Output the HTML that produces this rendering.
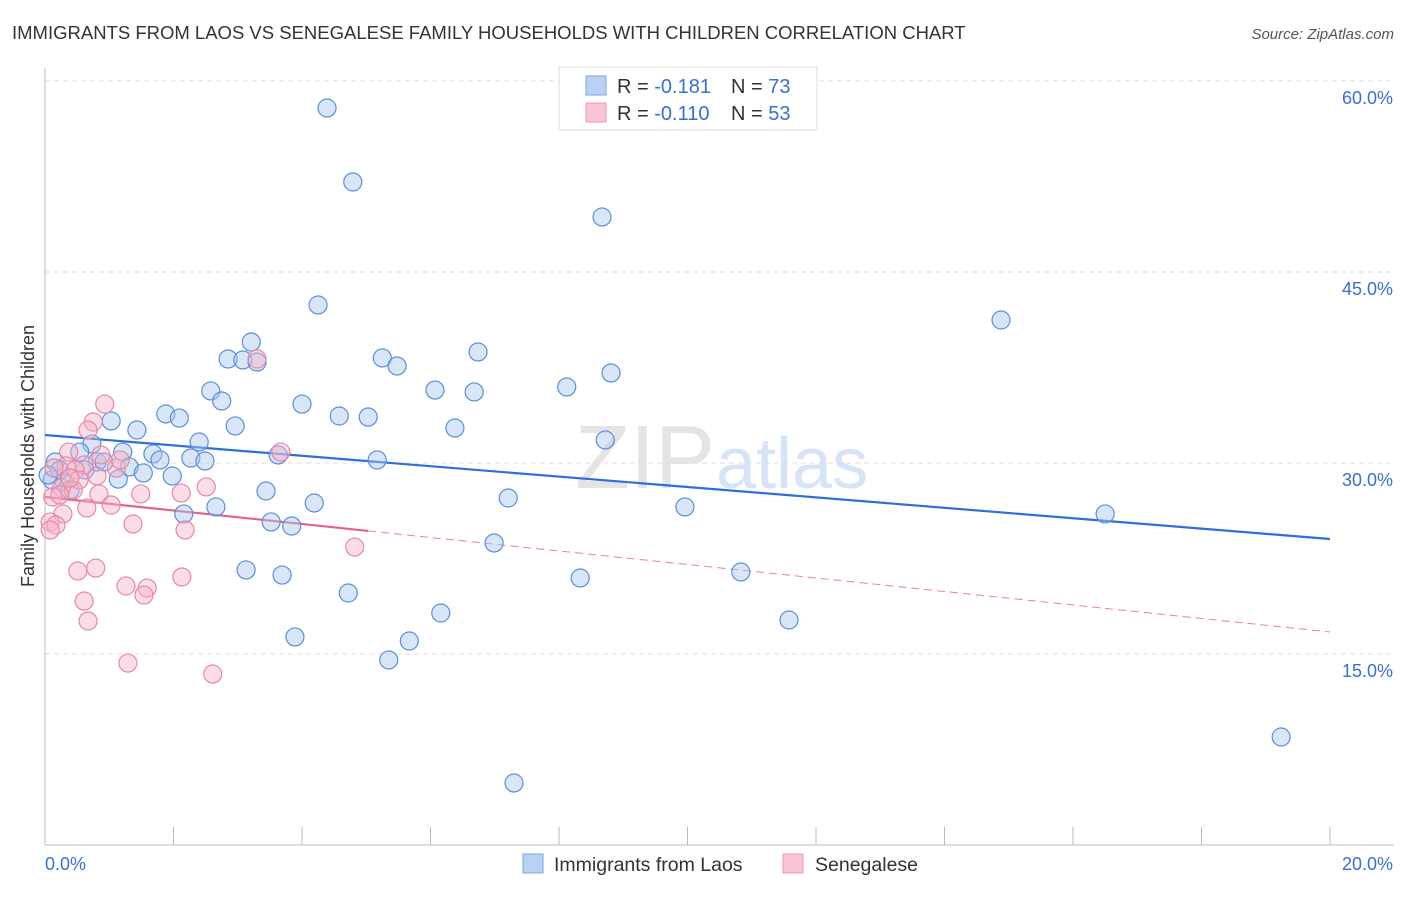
<!DOCTYPE html>
<html><head><meta charset="utf-8"><style>
body{margin:0;background:#fff;font-family:"Liberation Sans",sans-serif;}
svg text{font-family:"Liberation Sans",sans-serif;}
</style></head><body>
<svg id="chart" width="1406" height="892">
<text x="12" y="39" font-size="18.5" fill="#333">IMMIGRANTS FROM LAOS VS SENEGALESE FAMILY HOUSEHOLDS WITH CHILDREN CORRELATION CHART</text>
<text x="1394" y="39" font-size="15" fill="#555" text-anchor="end" font-style="italic">Source: ZipAtlas.com</text>
<text x="715" y="488" font-size="90" fill="#e4e4e4" text-anchor="end" font-family="Liberation Serif">ZIP</text>
<text x="716" y="488" font-size="72" fill="#d6e4f5">atlas</text>
<text transform="translate(34,456) rotate(-90)" font-size="18" fill="#333" text-anchor="middle">Family Households with Children</text>
<g id="grid"></g><g id="axes"></g><g id="trends"></g><g id="pts"></g>
<g>
<rect x="559" y="67" width="258" height="63" fill="#fff" stroke="#ddd"/>
<rect x="586" y="76" width="20" height="19" fill="#b9d2f4" stroke="#7ea6e0"/>
<rect x="586" y="103" width="20" height="19" fill="#f9c4d3" stroke="#eb9ab3"/>
<text x="617" y="93" font-size="20" fill="#333">R = <tspan fill="#3a6fd0">-0.181</tspan><tspan x="731">N = </tspan><tspan fill="#3a6fd0">73</tspan></text>
<text x="617" y="120" font-size="20" fill="#333">R = <tspan fill="#3a6fd0">-0.110</tspan><tspan x="731">N = </tspan><tspan fill="#3a6fd0">53</tspan></text>
</g>
<g>
<rect x="523" y="854" width="20" height="19" fill="#b9d2f4" stroke="#7ea6e0"/>
<text x="554" y="871" font-size="19.5" fill="#333">Immigrants from Laos</text>
<rect x="783" y="854" width="20" height="19" fill="#f9c4d3" stroke="#eb9ab3"/>
<text x="815" y="871" font-size="19.5" fill="#333">Senegalese</text>
</g>
</svg>
<script>
const yTicks=[15,30,45,60];
const yTickLabels=["15.0%","30.0%","45.0%","60.0%"];
const xTickLabels=["0.0%","20.0%"];
const laosX=[4.39,4.79,8.67,4.25,14.88,3.21,6.74,2.85,3.08,5.25,5.48,3.30,8.81,8.12,2.58,6.07,6.68,2.75,4.00,1.88,2.09,4.58,5.03,1.03,2.96,1.43,6.38,0.73,2.40,8.72,1.21,1.68,0.54,3.63,2.27,1.79,2.49,5.17,0.81,0.16,1.31,1.53,1.98,1.14,0.30,0.92,3.44,7.21,4.19,2.66,9.96,2.16,16.50,3.52,3.84,6.99,3.13,3.69,8.33,10.83,4.72,6.16,11.58,3.89,5.67,5.35,19.24,7.30,0.11,0.23,0.39,0.05,0.62];
const laosY=[57.88,52.07,49.32,42.41,41.23,39.50,38.72,38.17,38.09,38.25,37.62,37.93,37.07,35.97,35.66,35.73,35.58,34.87,34.63,33.85,33.53,33.69,33.61,33.30,32.91,32.59,32.75,31.49,31.65,31.81,30.86,30.71,30.86,30.63,30.39,30.24,30.16,30.24,30.08,30.08,29.69,29.22,28.98,28.74,28.51,30.08,27.80,27.25,26.86,26.55,26.55,26.00,26.00,25.37,25.05,23.72,21.60,21.20,20.97,21.44,19.79,18.22,17.67,16.34,16.02,14.53,8.48,4.87,28.67,29.45,27.88,29.06,29.45];
const senX=[0.93,0.75,0.67,3.30,3.67,0.37,0.87,0.33,0.61,0.14,0.47,1.11,0.81,0.53,0.26,0.44,0.12,0.84,1.49,2.12,2.51,0.65,1.03,0.28,0.08,0.17,1.37,2.18,4.82,0.51,0.79,2.13,1.26,1.59,1.54,0.61,0.67,1.29,2.61,0.08,1.17,0.39,0.23];
const senY=[34.63,33.22,32.59,38.17,30.86,30.86,30.63,29.77,29.84,29.61,29.45,29.61,28.98,28.67,28.04,27.88,27.33,27.57,27.57,27.64,28.12,26.47,26.70,26.00,25.37,25.13,25.21,24.74,23.40,21.52,21.75,21.05,20.34,20.18,19.63,19.16,17.59,14.29,13.43,24.74,30.24,28.82,27.49];
const laosTrend=[32.2,24.03];
const senTrend=[27.33,16.73];
const senSolidEnd=5.03;
const NS="http://www.w3.org/2000/svg";
const X0=45,X1=1330,Y0=845,PXPER=191/15;
const xs=v=>X0+v/20*(X1-X0), ys=v=>Y0-v*PXPER;
function mk(tag,attrs,parent){const e=document.createElementNS(NS,tag);for(const k in attrs)e.setAttribute(k,attrs[k]);parent.appendChild(e);return e;}
const grid=document.getElementById('grid'),axes=document.getElementById('axes'),trends=document.getElementById('trends'),pts=document.getElementById('pts');
yTicks.forEach((t,i)=>{
 const l=mk('line',{x1:X0,x2:1394,y1:ys(t),y2:ys(t),stroke:'#ddd','stroke-dasharray':'5,4'},grid);
 
 
 const tx=mk('text',{x:1393,y:ys(t)+23,'font-size':18,fill:'#3a6fd0','text-anchor':'end'},axes);
 tx.textContent=yTickLabels[i];
 
 
});
const ax=mk('line',{x1:X0,x2:1394,y1:Y0,y2:Y0,stroke:'#bbb'},axes);


const ay=mk('line',{x1:X0,x2:X0,y1:68,y2:Y0,stroke:'#bbb'},axes);


for(let i=0;i<=10;i++){const t=mk('line',{x1:xs(i*2),x2:xs(i*2),y1:Y0,y2:Y0-18,stroke:'#bbb'},axes);
 
 }
const xl0=mk('text',{x:45,y:870,'font-size':18,fill:'#3a6fd0'},axes);xl0.textContent=xTickLabels[0];


const xl1=mk('text',{x:1393,y:870,'font-size':18,fill:'#3a6fd0','text-anchor':'end'},axes);xl1.textContent=xTickLabels[1];


function drawPts(X,Y,fill,stroke,name){X.forEach((x,i)=>{const c=mk('circle',{cx:xs(x),cy:ys(Y[i]),r:9,fill:fill,'fill-opacity':0.45,stroke:stroke,'stroke-width':1.2},pts);
 
 });}
drawPts(laosX,laosY,'#a9c8f0','#5b8fd9','laos-point');
drawPts(senX,senY,'#f5b3c7','#e888a5','senegalese-point');
const lt=mk('line',{x1:xs(0),y1:ys(laosTrend[0]),x2:xs(20),y2:ys(laosTrend[1]),stroke:'#2f6fd6','stroke-width':2.2},trends);


const sAt=x=>senTrend[0]+(senTrend[1]-senTrend[0])*x/20;
const st=mk('line',{x1:xs(0),y1:ys(sAt(0)),x2:xs(senSolidEnd),y2:ys(sAt(senSolidEnd)),stroke:'#e8608c','stroke-width':2.2},trends);


const sd=mk('line',{x1:xs(senSolidEnd),y1:ys(sAt(senSolidEnd)),x2:xs(20),y2:ys(sAt(20)),stroke:'#e8809f','stroke-width':1,'stroke-dasharray':'8,5'},trends);


</script>
</body></html>
